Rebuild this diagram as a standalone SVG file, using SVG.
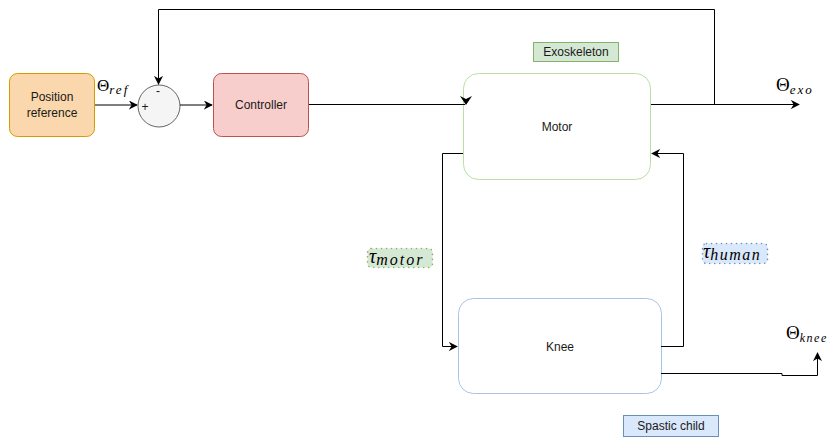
<svg xmlns="http://www.w3.org/2000/svg" width="833" height="438" viewBox="0 0 833 438">
<defs>
<marker id="arr" viewBox="0 0 10 10" refX="9" refY="5" markerWidth="9" markerHeight="9" markerUnits="userSpaceOnUse" orient="auto">
<path d="M0,0 L10,5 L0,10 L3,5 Z" fill="#000"/>
</marker>
<style>
.lbl{font-family:"Liberation Sans",Arial,sans-serif;font-size:12px;fill:#1a1a1a;text-anchor:middle}
.math{font-family:"Liberation Serif","DejaVu Serif",serif;fill:#000}
.it{font-style:italic}
.ln{fill:none;stroke:#000;stroke-width:1}
.dot{stroke-width:1.6;stroke-dasharray:0 5;stroke-linecap:round}
</style>
</defs>
<rect width="833" height="438" fill="#fff"/>
<g id="position-reference">
<rect x="9.5" y="73.5" width="85" height="63" rx="8" fill="#fad7ac" stroke="#d79b00"/>
<text class="lbl" x="52" y="101">Position</text>
<text class="lbl" x="52" y="117">reference</text>
</g>
<g id="sum">
<circle cx="159" cy="106" r="21" fill="#f5f5f5" stroke="#666"/>
<text class="lbl" x="145" y="111">+</text>
<text class="lbl" x="158" y="95">-</text>
</g>
<g id="controller">
<rect x="213.5" y="73.5" width="95" height="63" rx="8" fill="#f8cecc" stroke="#b85450"/>
<text class="lbl" x="261" y="109">Controller</text>
</g>
<g id="motor">
<rect x="463.5" y="73.5" width="187" height="106" rx="15" fill="#fff" stroke="#b9e0a5"/>
<text class="lbl" x="557" y="131">Motor</text>
</g>
<g id="knee">
<rect x="458.5" y="298.5" width="203" height="95" rx="15" fill="#fff" stroke="#a9c4eb"/>
<text class="lbl" x="560" y="351">Knee</text>
</g>
<g id="exoskeleton-label">
<rect x="533.5" y="42.5" width="85" height="19" fill="#d5e8d4" stroke="#82b366"/>
<text class="lbl" x="576" y="56">Exoskeleton</text>
</g>
<g id="spastic-child-label">
<rect x="623.5" y="415.5" width="95" height="21" fill="#dae8fc" stroke="#6c8ebf"/>
<text class="lbl" x="671" y="430">Spastic child</text>
</g>
<g id="tau-motor">
<rect x="367.5" y="248.5" width="65" height="19" rx="4" fill="#d5e8d4" stroke="#82b366" class="dot"/>
<text class="math it" x="369" y="263" style="font-size:20px">τ<tspan style="font-size:16px;letter-spacing:2px" dy="2">motor</tspan></text>
</g>
<g id="tau-human">
<rect x="702.5" y="243.5" width="65" height="20" rx="4" fill="#dae8fc" stroke="#6c8ebf" class="dot"/>
<text class="math it" x="703" y="258" style="font-size:20px">τ<tspan style="font-size:16px;letter-spacing:1.5px" dy="2">human</tspan></text>
</g>
<g id="theta-ref">
<text class="math" x="97" y="91" style="font-size:17px">Θ<tspan class="it" style="font-size:13px;letter-spacing:2px" dy="3">ref</tspan></text>
</g>
<g id="theta-exo">
<text class="math" x="776" y="91" style="font-size:19px">Θ<tspan class="it" style="font-size:13px;letter-spacing:2px" dy="3">exo</tspan></text>
</g>
<g id="theta-knee">
<text class="math" x="786" y="339" style="font-size:19px">Θ<tspan class="it" style="font-size:12px;letter-spacing:1.5px" dy="3">knee</tspan></text>
</g>
<g id="connectors">
<path class="ln" d="M95,105 H137" marker-end="url(#arr)"/>
<path class="ln" d="M180,105 H212" marker-end="url(#arr)"/>
<path class="ln" d="M309,104.5 H465"/>
<path d="M460,96 L466,105 L472,96 L466,99 Z" fill="#000"/>
<path class="ln" d="M651,104.5 H799" marker-end="url(#arr)"/>
<path class="ln" d="M714.5,104.5 V9.5 H158.5 V84" marker-end="url(#arr)"/>
<path class="ln" d="M463,153.5 H442.5 V346.5 H457" marker-end="url(#arr)"/>
<path class="ln" d="M661,346.5 H683.5 V153.5 H652" marker-end="url(#arr)"/>
<path class="ln" d="M661,373.5 H782 V375.5 H817.5 V353" marker-end="url(#arr)"/>
</g>
</svg>
